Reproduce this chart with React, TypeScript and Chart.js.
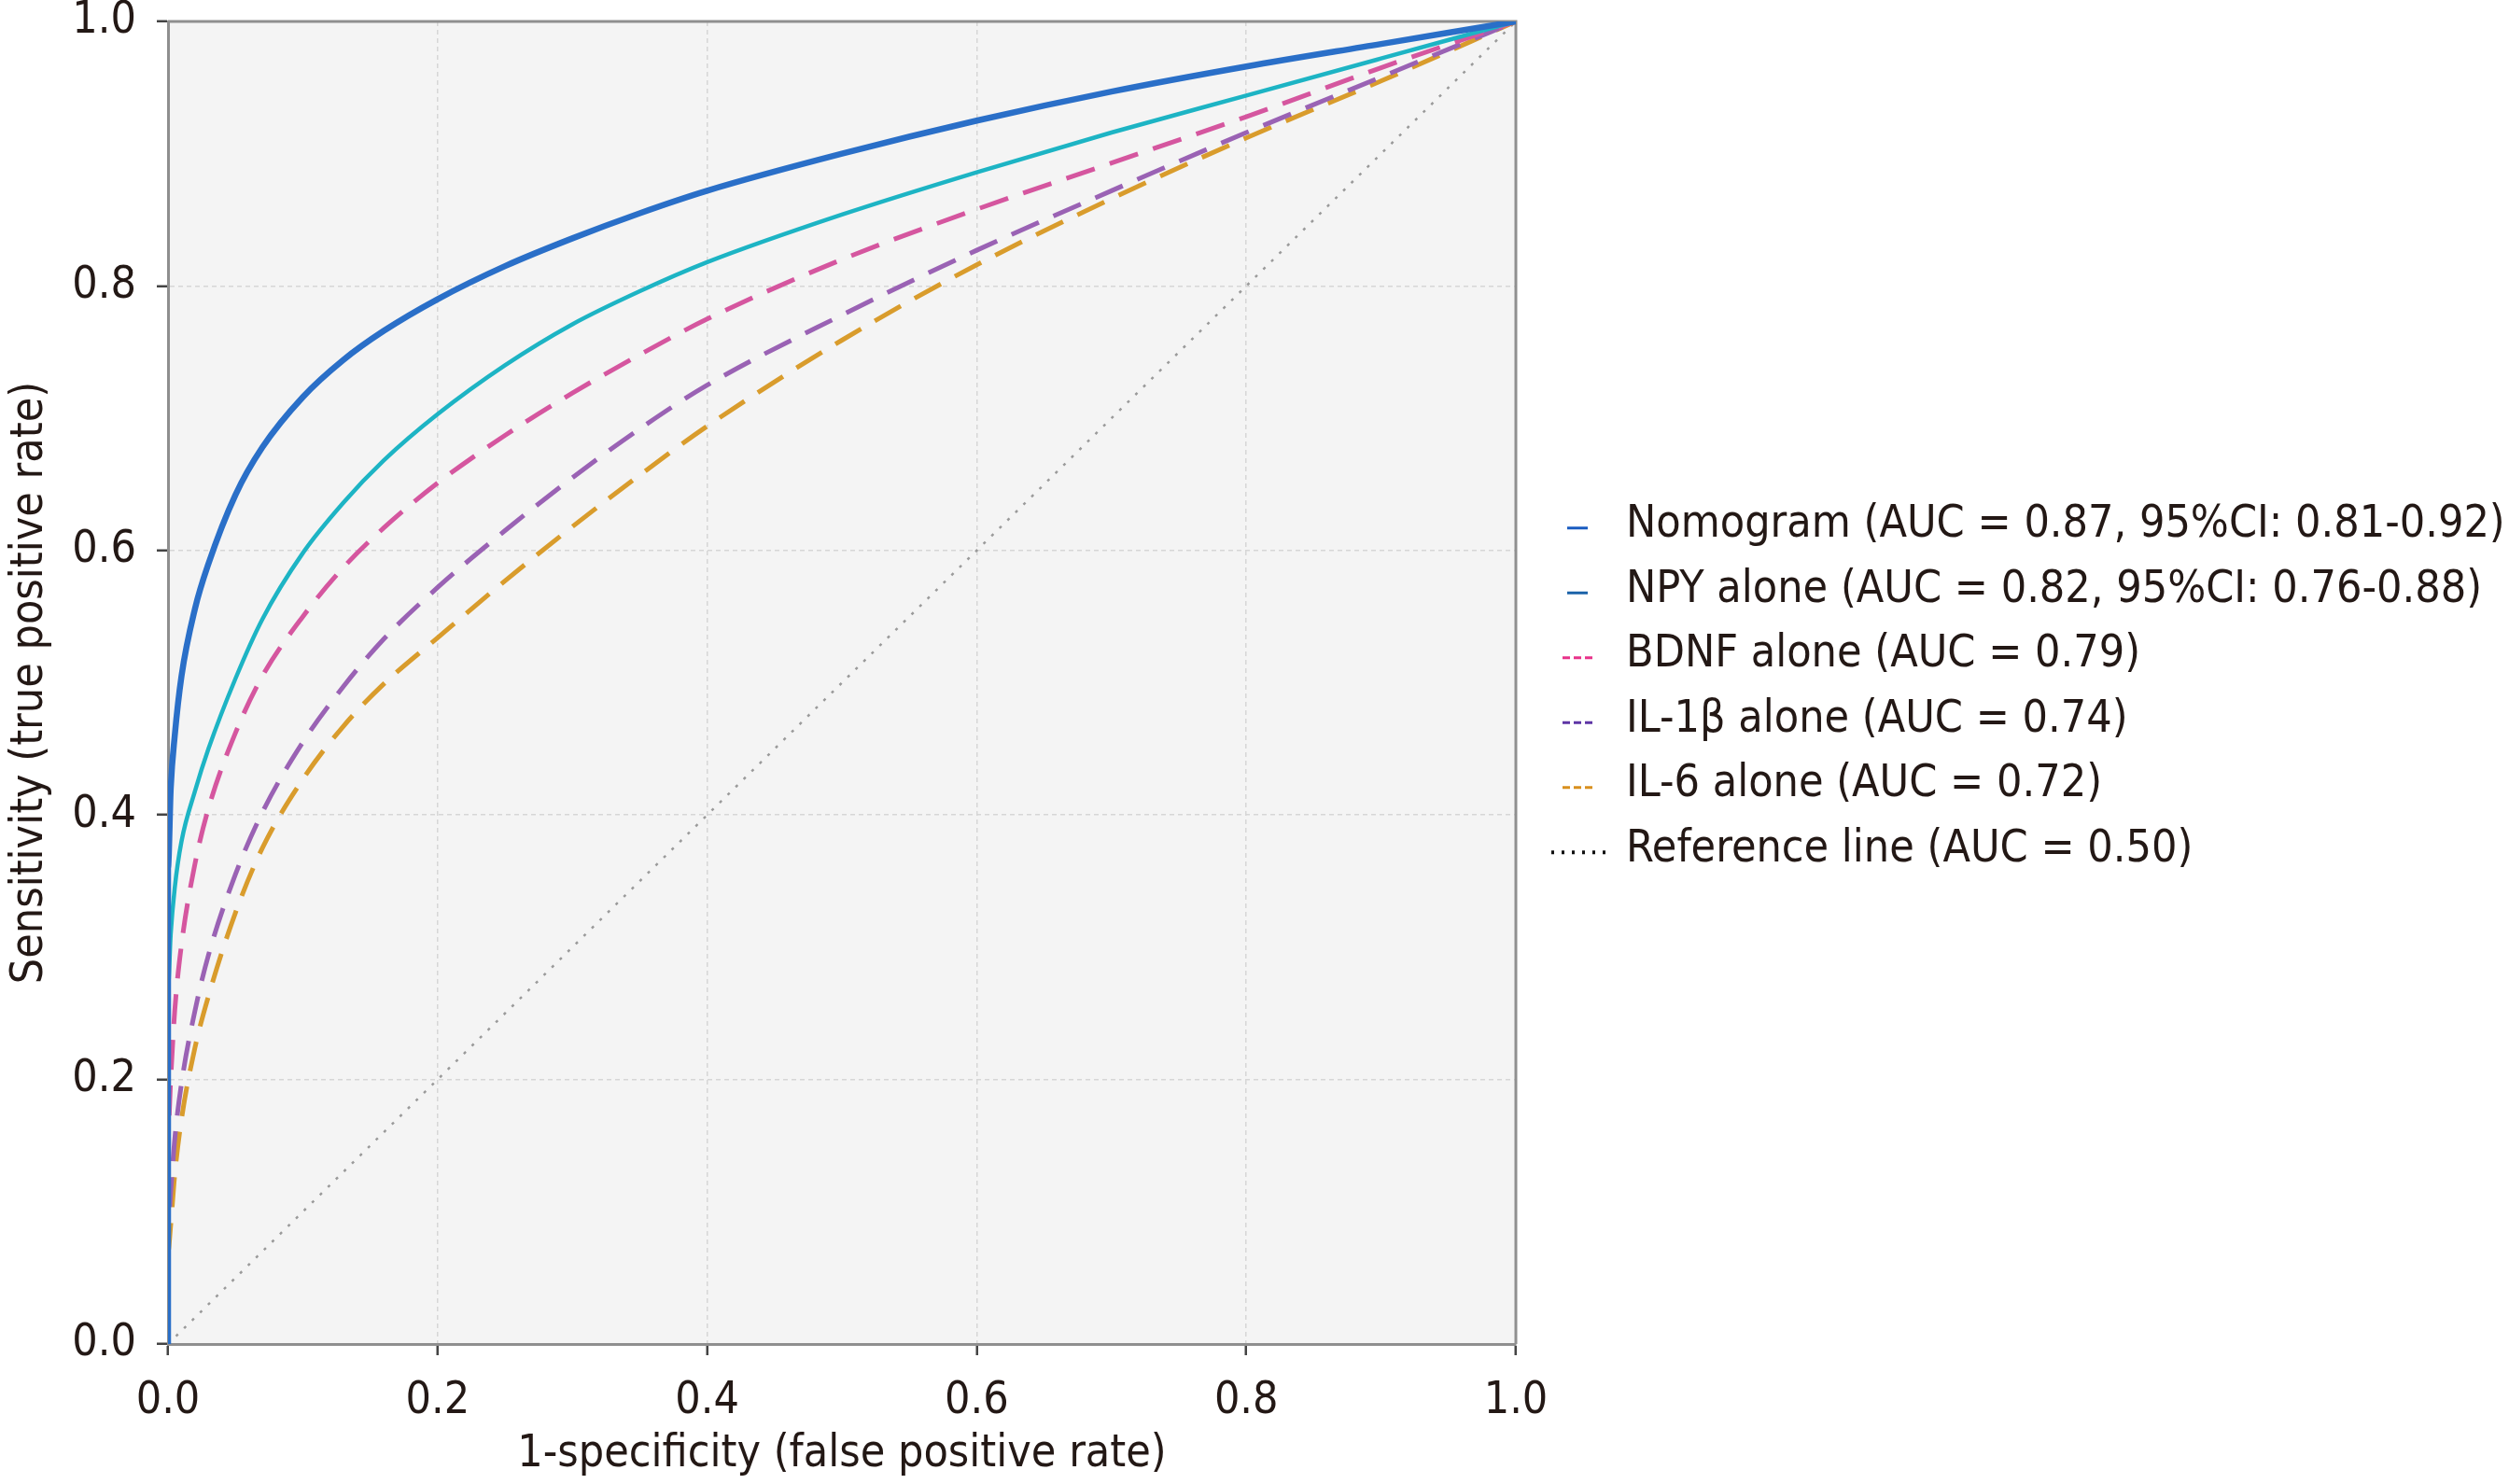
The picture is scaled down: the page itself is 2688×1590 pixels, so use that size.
import React, { useEffect, useRef } from "react";
import { Chart, registerables } from "chart.js";

Chart.register(...registerables);

// ---- data ----
const FPR = [0, 0, 0.002, 0.005, 0.01, 0.02, 0.03, 0.05, 0.07, 0.1, 0.13, 0.16, 0.2, 0.25, 0.3, 0.35, 0.4, 0.5, 0.6, 0.7, 0.8, 0.9, 1.0];
const TPR_NOMOGRAM = [0, 0.36, 0.42, 0.46, 0.505, 0.556, 0.59, 0.642, 0.678, 0.716, 0.744, 0.766, 0.79, 0.815, 0.836, 0.855, 0.872, 0.9, 0.925, 0.947, 0.966, 0.983, 1];
const TPR_NPY = [0, 0.27, 0.31, 0.345, 0.38, 0.418, 0.45, 0.503, 0.548, 0.598, 0.636, 0.668, 0.703, 0.74, 0.771, 0.796, 0.818, 0.854, 0.886, 0.916, 0.944, 0.972, 1];
const TPR_BDNF = [0, 0.16, 0.2, 0.252, 0.302, 0.363, 0.405, 0.462, 0.505, 0.55, 0.587, 0.617, 0.651, 0.687, 0.719, 0.748, 0.775, 0.82, 0.858, 0.893, 0.928, 0.965, 1];
const TPR_IL1B = [0, 0.09, 0.115, 0.155, 0.197, 0.252, 0.294, 0.355, 0.402, 0.455, 0.497, 0.533, 0.572, 0.615, 0.655, 0.692, 0.725, 0.778, 0.827, 0.872, 0.916, 0.958, 1];
const TPR_IL6 = [0, 0.07, 0.09, 0.128, 0.17, 0.224, 0.263, 0.326, 0.375, 0.427, 0.467, 0.499, 0.534, 0.577, 0.618, 0.657, 0.694, 0.759, 0.816, 0.866, 0.912, 0.955, 1];
const REF_FPR = [0, 1];
const REF_TPR = [0, 1];

const SERIES_LABELS = [
  "Nomogram (AUC = 0.87, 95%CI: 0.81-0.92)",
  "NPY alone (AUC = 0.82, 95%CI: 0.76-0.88)",
  "BDNF alone (AUC = 0.79)",
  "IL-1β alone (AUC = 0.74)",
  "IL-6 alone (AUC = 0.72)",
  "Reference line (AUC = 0.50)",
];
const SERIES_TPR = [TPR_NOMOGRAM, TPR_NPY, TPR_BDNF, TPR_IL1B, TPR_IL6];
const X_TITLE = "1-specificity (false positive rate)";
const Y_TITLE = "Sensitivity (true positive rate)";

// ---- styles ----
const LINE_COLORS = ["#2a6fc8", "#1db4c4", "#d5569f", "#9a62b4", "#d99c2c", "#9a9a9a"];
const LEGEND_COLORS = ["#1a5cc0", "#1a62a8", "#e8338a", "#5e35a5", "#d9901e", "#111111"];
const LINE_WIDTHS = [6.5, 4.5, 5, 5, 5, 2.5];
const LINE_DASHES: number[][] = [[], [], [32, 17], [32, 17], [32, 17], [3, 9]];
const LEGEND_KIND = ["solid", "solid", "dash", "dash", "dash", "dot"];
const FONT_FAMILY = "'DejaVu Sans Condensed', 'DejaVu Sans', sans-serif";
const TEXT_COLOR = "#231815";
const FRAME_COLOR = "#8f8f8f";

const plotFrame = {
  id: "plotFrame",
  beforeDraw(chart: any) {
    const { ctx, chartArea } = chart;
    const { left, top, right, bottom } = chartArea;
    ctx.save();
    ctx.fillStyle = "#f4f4f4";
    ctx.fillRect(left, top, right - left, bottom - top);
    ctx.restore();
  },
  beforeDatasetsDraw(chart: any) {
    const { ctx, chartArea } = chart;
    const { left, top, right, bottom } = chartArea;
    ctx.save();
    ctx.strokeStyle = FRAME_COLOR;
    ctx.lineWidth = 3;
    ctx.beginPath();
    ctx.moveTo(left, top);
    ctx.lineTo(right, top);
    ctx.lineTo(right, bottom);
    ctx.stroke();
    ctx.restore();
  },
};

const sideLegend = {
  id: "sideLegend",
  afterDraw(chart: any) {
    const { ctx, chartArea } = chart;
    const cy = (chartArea.top + chartArea.bottom) / 2 + 5;
    const rowGap = 69.5;
    const textX = chartArea.right + 118;
    const symCenter = chartArea.right + 66;
    ctx.save();
    ctx.font = `48px ${FONT_FAMILY}`;
    ctx.textBaseline = "middle";
    ctx.textAlign = "left";
    SERIES_LABELS.forEach((label, i) => {
      const y = cy + (i - 2.5) * rowGap;
      ctx.strokeStyle = LEGEND_COLORS[i];
      ctx.lineCap = "butt";
      const kind = LEGEND_KIND[i];
      if (kind === "solid") {
        ctx.lineWidth = 3;
        ctx.setLineDash([]);
        ctx.beginPath();
        ctx.moveTo(symCenter - 11, y + 3);
        ctx.lineTo(symCenter + 11, y + 3);
        ctx.stroke();
      } else if (kind === "dash") {
        ctx.lineWidth = 3;
        ctx.setLineDash([8, 4]);
        ctx.beginPath();
        ctx.moveTo(symCenter - 16, y + 3);
        ctx.lineTo(symCenter + 16, y + 3);
        ctx.stroke();
      } else {
        ctx.lineWidth = 4;
        ctx.setLineDash([3, 8]);
        ctx.beginPath();
        ctx.moveTo(symCenter - 28, y + 3);
        ctx.lineTo(symCenter + 30, y + 3);
        ctx.stroke();
      }
      ctx.setLineDash([]);
      ctx.fillStyle = TEXT_COLOR;
      ctx.fillText(label, textX, y);
    });
    ctx.restore();
  },
};

export default function App() {
  const canvasRef = useRef<HTMLCanvasElement | null>(null);

  useEffect(() => {
    if (!canvasRef.current) return;
    const datasets: any[] = SERIES_TPR.map((tpr, i) => ({
      label: SERIES_LABELS[i],
      data: FPR.map((x, j) => ({ x, y: tpr[j] })),
      borderColor: LINE_COLORS[i],
      backgroundColor: LINE_COLORS[i],
      borderWidth: LINE_WIDTHS[i],
      borderDash: LINE_DASHES[i],
      pointRadius: 0,
      fill: false,
      cubicInterpolationMode: "monotone",
    }));
    datasets.push({
      label: SERIES_LABELS[5],
      data: REF_FPR.map((x, j) => ({ x, y: REF_TPR[j] })),
      borderColor: LINE_COLORS[5],
      backgroundColor: LINE_COLORS[5],
      borderWidth: LINE_WIDTHS[5],
      borderDash: LINE_DASHES[5],
      pointRadius: 0,
      fill: false,
    });

    const tickFont = { family: FONT_FAMILY, size: 48 };
    const gridOpts = {
      color: "#d6d6d6",
      lineWidth: 1.5,
      tickColor: "#444444",
      tickLength: 12,
      tickWidth: 2.5,
      tickBorderDash: [],
    };
    const chart = new Chart(canvasRef.current, {
      type: "line",
      data: { datasets },
      plugins: [plotFrame, sideLegend],
      options: {
        animation: false,
        responsive: true,
        maintainAspectRatio: false,
        events: [],
        layout: { padding: { top: 0, right: 1064, bottom: 0, left: 0 } },
        plugins: { legend: { display: false }, tooltip: { enabled: false } },
        scales: {
          x: {
            type: "linear",
            min: 0,
            max: 1,
            afterFit(scale: any) {
              scale.height = 150;
              scale.paddingLeft = 0;
              scale.paddingRight = 0;
            },
            ticks: {
              stepSize: 0.2,
              padding: 21,
              color: TEXT_COLOR,
              font: tickFont,
              maxRotation: 0,
              callback: (v: any) => Number(v).toFixed(1),
            },
            grid: gridOpts,
            border: { display: true, color: FRAME_COLOR, width: 3, dash: [5, 4] },
            title: {
              display: true,
              text: X_TITLE,
              color: TEXT_COLOR,
              font: tickFont,
              padding: { top: 0, bottom: 3 },
            },
          },
          y: {
            type: "linear",
            min: 0,
            max: 1,
            afterFit(scale: any) {
              scale.width = 180;
              scale.paddingTop = 23;
              scale.paddingBottom = 0;
            },
            ticks: {
              stepSize: 0.2,
              padding: 22,
              color: TEXT_COLOR,
              font: tickFont,
              callback: (v: any) => Number(v).toFixed(1),
            },
            grid: gridOpts,
            border: { display: true, color: FRAME_COLOR, width: 3, dash: [5, 4] },
            title: {
              display: true,
              text: Y_TITLE,
              color: TEXT_COLOR,
              font: tickFont,
              padding: { top: 4, bottom: 0 },
            },
          },
        },
      } as any,
    });
    return () => chart.destroy();
  }, []);

  return (
    <div style={{ position: "fixed", left: 0, top: 0, width: "100vw", height: "100vh", background: "#ffffff" }}>
      <canvas ref={canvasRef} />
    </div>
  );
}
